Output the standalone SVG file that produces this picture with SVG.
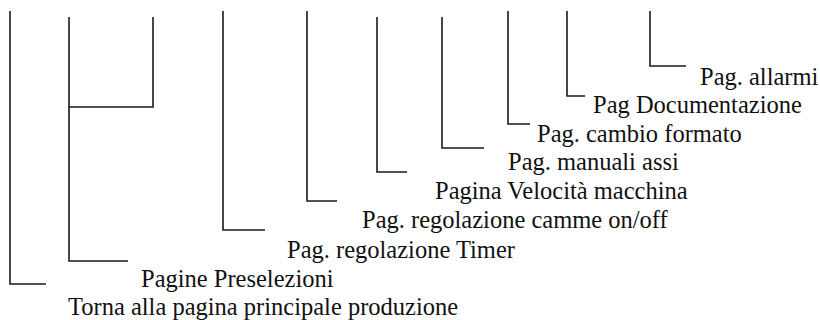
<svg xmlns="http://www.w3.org/2000/svg" width="820" height="320" viewBox="0 0 820 320">
<style>
.c{fill:none;stroke:#1a1a1a;stroke-width:1.6}
text{font-family:'Liberation Serif','Times New Roman',serif;font-size:24.5px;fill:#111}
</style>
<rect width="820" height="320" fill="#fff"/>
<g id="connectors">
<path class="c" d="M10,11V284H46"/>
<path class="c" d="M69,17V261H128"/>
<path class="c" d="M69,107H153V17"/>
<path class="c" d="M223,11V230H265"/>
<path class="c" d="M307,11V201H337"/>
<path class="c" d="M377,17V172H407"/>
<path class="c" d="M442,17V148H484"/>
<path class="c" d="M508,11V124H530"/>
<path class="c" d="M567,11V96H585"/>
<path class="c" d="M650,11V66H686"/>
</g>
<g id="n-allarmi"><text x="700" y="85">Pag. allarmi</text></g>
<g id="n-documentazione"><text x="593" y="113">Pag Documentazione</text></g>
<g id="n-cambio"><text x="537" y="142">Pag. cambio formato</text></g>
<g id="n-manuali"><text x="508" y="170">Pag. manuali assi</text></g>
<g id="n-velocita"><text x="435" y="199">Pagina Velocità macchina</text></g>
<g id="n-camme"><text x="362" y="228">Pag. regolazione camme on/off</text></g>
<g id="n-timer"><text x="287" y="258">Pag. regolazione Timer</text></g>
<g id="n-preselezioni"><text x="141" y="287">Pagine Preselezioni</text></g>
<g id="n-torna"><text x="68" y="315">Torna alla pagina principale produzione</text></g>
</svg>
